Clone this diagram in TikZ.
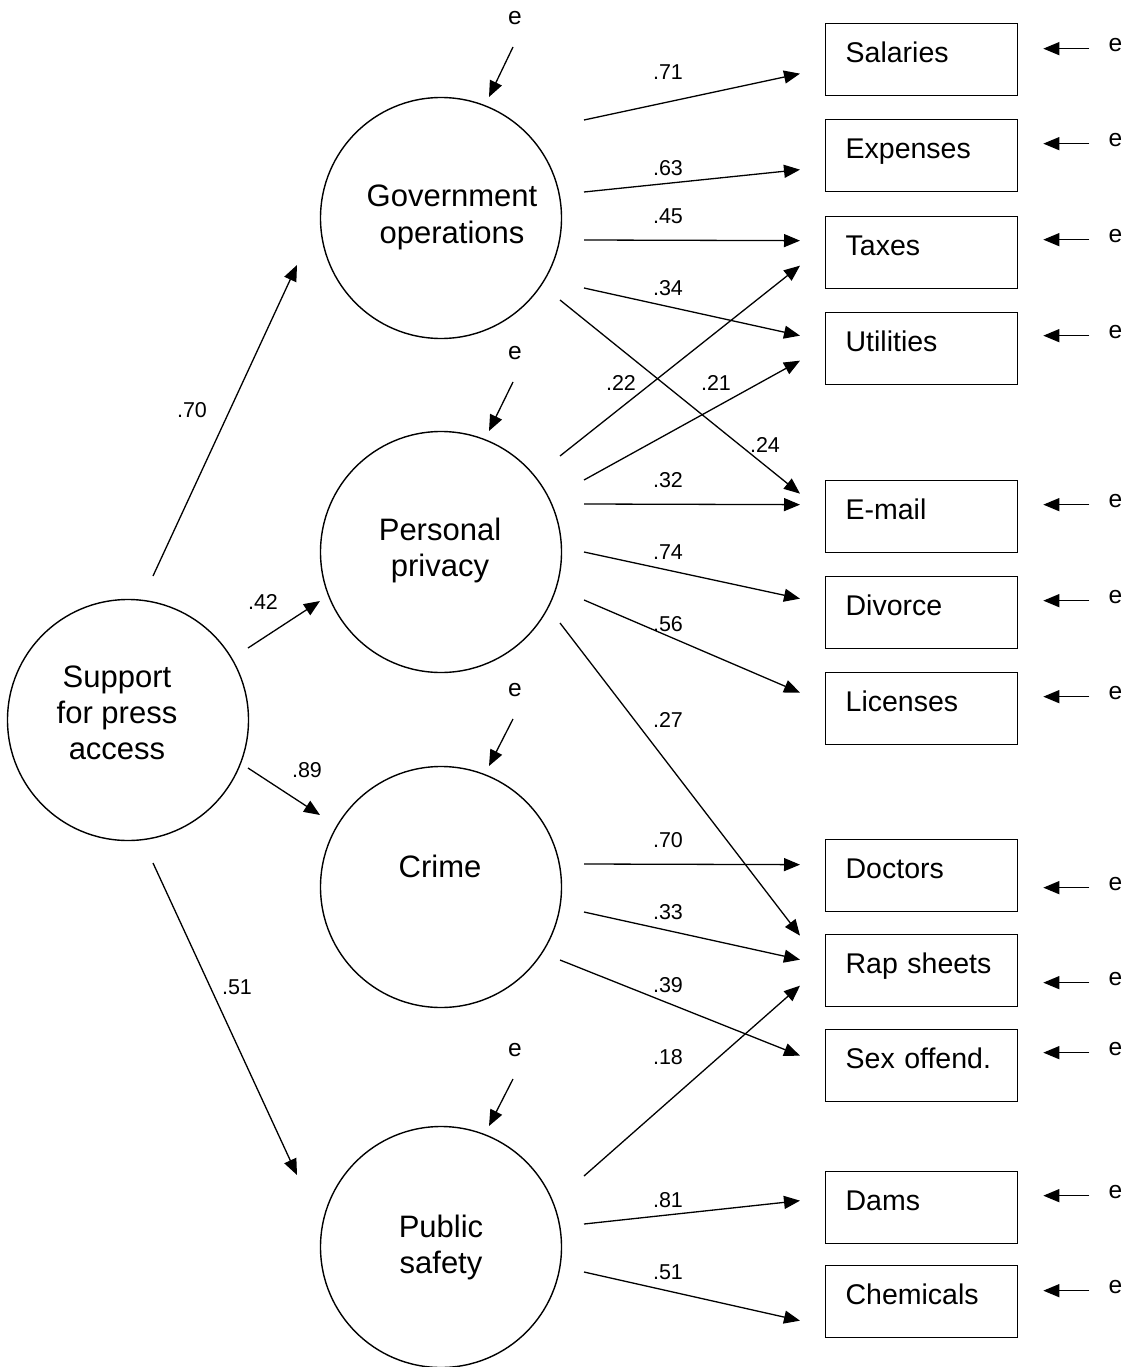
\documentclass[tikz,border=0pt]{standalone}
\usepackage{fontspec}
\setmainfont{Liberation Sans}
\usetikzlibrary{arrows.meta}
\begin{document}
\begin{tikzpicture}[x=1pt,y=-1pt,
  latent/.style={circle,draw,line width=1.4pt,minimum size=241pt,inner sep=0pt},
  ltext/.style={font=\fontsize{31}{36}\selectfont,inner sep=0pt,anchor=base},
  obs/.style={rectangle,draw,line width=1.3pt,anchor=north west,
    inner xsep=20pt,inner ysep=17pt,text width=152pt,align=left,
    text height=22pt,text depth=16pt,font=\fontsize{28.5}{34}\selectfont},
  arr/.style={line width=1.3pt,-{Triangle[length=16pt,width=13pt]}},
  coef/.style={font=\fontsize{21.5}{25}\selectfont,inner sep=0pt},
  err/.style={font=\fontsize{24.5}{28}\selectfont,inner sep=0pt},
]
\useasboundingbox (0,0) rectangle (1130,1367);

% latent variables
\node[latent] (sup) at (128,720) {};
\node[latent] (gov) at (441,218) {};
\node[latent] (per) at (441,552) {};
\node[latent] (cri) at (441,887) {};
\node[latent] (pub) at (441,1247) {};

\node[ltext] (suptxt) at (117,687) {\begin{tabular}[t]{@{}c@{}}Support\\for press\\access\end{tabular}};
\node[ltext] (govtxt) at (452,207) {\begin{tabular}[t]{@{}c@{}}Government\\operations\end{tabular}};
\node[ltext] (pertxt) at (440,540) {\begin{tabular}[t]{@{}c@{}}Personal\\privacy\end{tabular}};
\node[ltext] (critxt) at (440,877) {Crime};
\node[ltext] (pubtxt) at (441,1237) {\begin{tabular}[t]{@{}c@{}}Public\\safety\end{tabular}};

% observed indicators
\node[obs] (sal) at (825,23)   {Salaries};
\node[obs] (exp) at (825,119)  {Expenses};
\node[obs] (tax) at (825,216)  {Taxes};
\node[obs] (uti) at (825,312)  {Utilities};
\node[obs] (ema) at (825,480)  {E-mail};
\node[obs] (div) at (825,576)  {Divorce};
\node[obs] (lic) at (825,672)  {Licenses};
\node[obs] (doc) at (825,839)  {Doctors};
\node[obs] (rap) at (825,934)  {Rap sheets};
\node[obs] (sex) at (825,1029) {Sex offend.};
\node[obs] (dam) at (825,1171) {Dams};
\node[obs] (che) at (825,1265) {Chemicals};

% second-order paths
\draw[arr] ([shift={(25,-144)}]sup.center) -- ([shift={(-144,47)}]gov.center);
\draw[arr] ([shift={(120,-72)}]sup.center) -- ([shift={(-121,49)}]per.center);
\draw[arr] ([shift={(120,48)}]sup.center)  -- ([shift={(-121,-72)}]cri.center);
\draw[arr] ([shift={(25,143)}]sup.center)  -- ([shift={(-144,-72)}]pub.center);
\node[coef] (c1) at (192,410) {.70};
\node[coef] (c2) at (263,602) {.42};
\node[coef] (c3) at (307,770) {.89};
\node[coef] (c4) at (237,987) {.51};

% government operations loadings
\draw[arr] ([shift={(143,-98)}]gov.center) -- ([shift={(-25,14)}]sal.west);
\draw[arr] ([shift={(143,-26)}]gov.center) -- ([shift={(-25,14)}]exp.west);
\draw[arr] ([shift={(143,22)}]gov.center)  -- ([shift={(-25,-12)}]tax.west);
\draw[arr] ([shift={(143,70)}]gov.center)  -- ([shift={(-25,-13)}]uti.west);
\draw[arr] ([shift={(119,82)}]gov.center)  -- ([shift={(-25,-23)}]ema.west);

% personal privacy loadings
\draw[arr] ([shift={(119,-96)}]per.center) -- ([shift={(-25,13)}]tax.west);
\draw[arr] ([shift={(143,-72)}]per.center) -- ([shift={(-25,12)}]uti.west);
\draw[arr] ([shift={(143,-48)}]per.center) -- ([shift={(-25,-12)}]ema.west);
\draw[arr] ([shift={(143,0)}]per.center)   -- ([shift={(-25,-14)}]div.west);
\draw[arr] ([shift={(143,48)}]per.center)  -- ([shift={(-25,-16)}]lic.west);
\draw[arr] ([shift={(119,71)}]per.center)  -- ([shift={(-25,-35)}]rap.west);

% crime loadings
\draw[arr] ([shift={(143,-23)}]cri.center) -- ([shift={(-25,-11)}]doc.west);
\draw[arr] ([shift={(143,25)}]cri.center)  -- ([shift={(-25,-11)}]rap.west);
\draw[arr] ([shift={(119,73)}]cri.center)  -- ([shift={(-25,-10)}]sex.west);

% public safety loadings
\draw[arr] ([shift={(143,-71)}]pub.center) -- ([shift={(-25,15)}]rap.west);
\draw[arr] ([shift={(143,-23)}]pub.center) -- ([shift={(-25,-7)}]dam.west);
\draw[arr] ([shift={(143,25)}]pub.center)  -- ([shift={(-25,19)}]che.west);

% loading coefficients
\node[coef] (l1)  at (668,72)   {.71};
\node[coef] (l2)  at (668,168)  {.63};
\node[coef] (l3)  at (668,216)  {.45};
\node[coef] (l4)  at (668,288)  {.34};
\node[coef] (l5)  at (621,383)  {.22};
\node[coef] (l6)  at (716,383)  {.21};
\node[coef] (l7)  at (765,445)  {.24};
\node[coef] (l8)  at (668,480)  {.32};
\node[coef] (l9)  at (668,552)  {.74};
\node[coef] (l10) at (668,624)  {.56};
\node[coef] (l11) at (668,720)  {.27};
\node[coef] (l12) at (668,840)  {.70};
\node[coef] (l13) at (668,912)  {.33};
\node[coef] (l14) at (668,985)  {.39};
\node[coef] (l15) at (668,1057) {.18};
\node[coef] (l16) at (668,1200) {.81};
\node[coef] (l17) at (668,1272) {.51};

% disturbances of the first-order factors
\foreach \f/\y in {gov/18, per/353, cri/690, pub/1050} {
  \node[err] (d\f) at (515,\y) {e};
  \draw[arr] ([shift={(-2,29)}]d\f.center) -- ([shift={(48,-121)}]\f.center);
}

% measurement errors
\foreach \b/\s in {sal/-11, exp/-12, tax/-13, uti/-13, ema/-12, div/-12, lic/-12,
                   doc/12, rap/12, sex/-13, dam/-12, che/-11} {
  \node[err] (e\b) at ([shift={(97,\s-4)}]\b.east) {e};
  \draw[arr] ([shift={(-26,4)}]e\b.center) -- ([shift={(25,\s)}]\b.east);
}
\end{tikzpicture}
\end{document}
